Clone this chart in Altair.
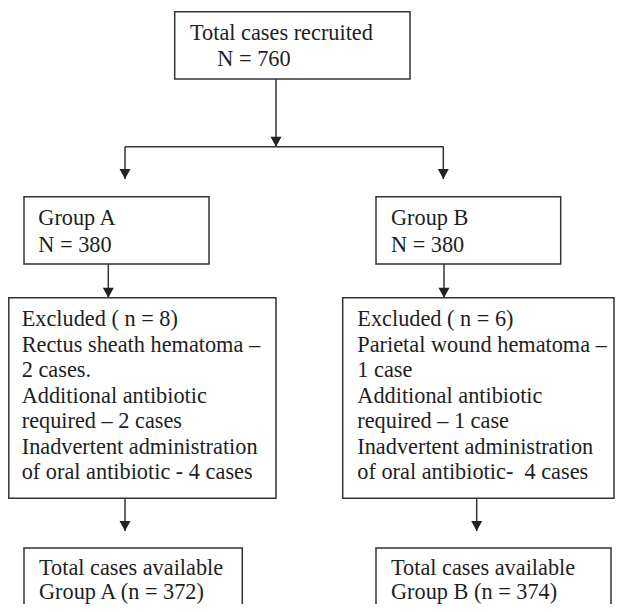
import altair as alt
import pandas as pd

# ---- values shown in the flowchart ----
total_recruited = 760
group_names = ["A", "B"]
group_n = [380, 380]
excluded_n = [8, 6]
hematoma_type = ["Rectus sheath hematoma", "Parietal wound hematoma"]
hematoma_cases = [2, 1]
extra_antibiotic_cases = [2, 1]
oral_antibiotic_cases = [4, 4]
available_n = [372, 374]

# ---- text of each box ----
top_lines = ["Total cases recruited", f"N = {total_recruited}"]
group_lines = [[f"Group {g}", f"N = {n}"] for g, n in zip(group_names, group_n)]
excl_lines = [
    [f"Excluded ( n = {excluded_n[0]})",
     f"{hematoma_type[0]} –",
     f"{hematoma_cases[0]} cases.",
     "Additional antibiotic",
     f"required – {extra_antibiotic_cases[0]} cases",
     "Inadvertent administration",
     f"of oral antibiotic - {oral_antibiotic_cases[0]} cases"],
    [f"Excluded ( n = {excluded_n[1]})",
     f"{hematoma_type[1]} –",
     f"{hematoma_cases[1]} case",
     "Additional antibiotic",
     f"required – {extra_antibiotic_cases[1]} case",
     "Inadvertent administration",
     f"of oral antibiotic-\u00a0 {oral_antibiotic_cases[1]} cases"],
]
avail_lines = [["Total cases available", f"Group {g} (n = {n})"]
               for g, n in zip(group_names, available_n)]

# ---- layout (page pixel coordinates) ----
box_ids = ["top", "gA", "gB", "eA", "eB", "aA", "aB"]
box_x1 = [174.7, 24, 376, 8.8, 342.7, 24, 376]
box_x2 = [410, 209, 560.7, 276, 614, 242.3, 611]
box_y1 = [11.7, 196.7, 196.7, 297.7, 297.7, 548, 548]
box_y2 = [79, 264, 264, 498.3, 498.3, 660, 660]
text_x = [[190, 217.3], 38.3, 391, 21.7, 357.3, 39, 391]
text_y0 = [40, 225, 225, 326, 326, 574.5, 574.5]
text_step = [26, 26.6, 26.6, 25.5, 25.5, 24.5, 24.5]
box_text = [top_lines, group_lines[0], group_lines[1], excl_lines[0],
            excl_lines[1], avail_lines[0], avail_lines[1]]

seg_x1 = [276, 125, 125, 443.3, 108.3, 444, 125, 476.7]
seg_x2 = [276, 443.3, 125, 443.3, 108.3, 444, 125, 476.7]
seg_y1 = [79, 146.7, 146.7, 146.7, 264, 264, 498.3, 498.3]
seg_y2 = [146.7, 146.7, 179, 179, 297.7, 297.7, 531, 531]

tip_x = [276, 125, 443.3, 108.3, 444, 125, 476.7]
tip_y = [146.7, 179, 179, 297.7, 297.7, 531, 531]

boxes = pd.DataFrame({"id": box_ids, "x1": box_x1, "x2": box_x2,
                      "y1": box_y1, "y2": box_y2})
segs = pd.DataFrame({"x1": seg_x1, "x2": seg_x2, "y1": seg_y1, "y2": seg_y2})
heads = pd.DataFrame({"x": tip_x, "y": [t - 4.95 for t in tip_y]})

rows = []
for tx, ty, st, lines in zip(text_x, text_y0, text_step, box_text):
    for i, s in enumerate(lines):
        x = tx[i] if isinstance(tx, list) else tx
        rows.append({"x": x, "y": ty + i * st, "t": s})
texts = pd.DataFrame(rows)

LINE = "#333333"
W, H = 607, 596
xs = alt.Scale(domain=[8, 8 + W], nice=False, zero=False)
ys = alt.Scale(domain=[8, 8 + H], nice=False, zero=False, reverse=True)
noax = None

box_layer = alt.Chart(boxes).mark_rect(
    fill="white", stroke=LINE, strokeWidth=1.5
).encode(
    x=alt.X("x1:Q", scale=xs, axis=noax), x2="x2:Q",
    y=alt.Y("y1:Q", scale=ys, axis=noax), y2="y2:Q",
)

seg_layer = alt.Chart(segs).mark_rule(color=LINE, strokeWidth=1.5).encode(
    x=alt.X("x1:Q", scale=xs, axis=noax), x2="x2:Q",
    y=alt.Y("y1:Q", scale=ys, axis=noax), y2="y2:Q",
)

head_layer = alt.Chart(heads).mark_point(
    shape="M-1,-0.9 L1,-0.9 L0,0.9 Z", size=121, filled=True,
    color="#222222", opacity=1, strokeWidth=0
).encode(
    x=alt.X("x:Q", scale=xs, axis=noax),
    y=alt.Y("y:Q", scale=ys, axis=noax),
)

text_layer = alt.Chart(texts).mark_text(
    align="left", baseline="alphabetic",
    font="'Liberation Serif', 'Times New Roman', 'DejaVu Serif', serif",
    fontSize=22.3, color="#1e1e1e"
).encode(
    x=alt.X("x:Q", scale=xs, axis=noax),
    y=alt.Y("y:Q", scale=ys, axis=noax),
    text="t:N",
)

chart = alt.layer(box_layer, seg_layer, head_layer, text_layer).properties(
    width=W, height=H, padding=0, autosize=alt.AutoSizeParams(type="none"),
    background="white",
).configure_view(stroke=None)

chart.save("out.html", embed_options={"renderer": "svg", "actions": False})
